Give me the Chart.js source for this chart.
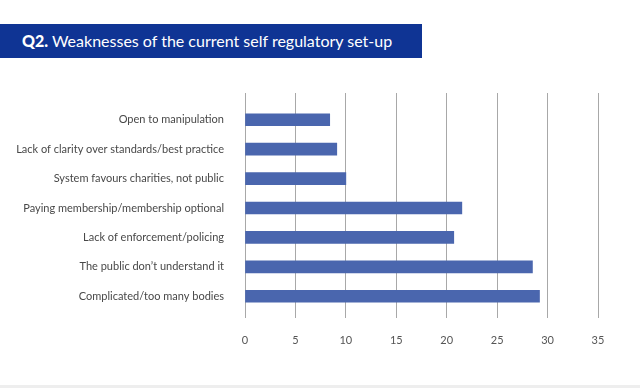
<!DOCTYPE html>
<html>
<head>
<meta charset="utf-8">
<script src="https://cdn.jsdelivr.net/npm/chart.js@4"></script>
<style>
  html, body { margin: 0; padding: 0; background: #ffffff; }
  #wrap { position: relative; width: 640px; height: 388px; overflow: hidden; }
  #chart { position: absolute; left: 0; top: 0; }
  #banner { position: absolute; left: 0; top: 24px; width: 422px; height: 34px; background: #0f3494;
            color: #ffffff; font-family: Lato, "Open Sans", sans-serif; font-size: 16px; line-height: 34px;
            padding-left: 22px; box-sizing: border-box; white-space: nowrap; }
  #banner b { font-weight: 900; }
  #footer { position: absolute; left: 0; top: 385px; width: 640px; height: 3px; background: #eeeeee; }
</style>
</head>
<body>
<div id="wrap">
  <canvas id="chart" width="640" height="388"></canvas>
  <div id="banner"><b>Q2.</b> Weaknesses of the current self regulatory set-up</div>
  <div id="footer"></div>
</div>
<script>
const categories = [
  "Open to manipulation",
  "Lack of clarity over standards/best practice",
  "System favours charities, not public",
  "Paying membership/membership optional",
  "Lack of enforcement/policing",
  "The public don\u2019t understand it",
  "Complicated/too many bodies"
];
const values = [8.4, 9.1, 10.0, 21.5, 20.7, 28.5, 29.2];
const xMin = 0, xMax = 35, xStep = 5;

const gridColor = "#a8a8a8";
const labelFont = { family: "Lato, 'Open Sans', sans-serif", size: 11 };

new Chart(document.getElementById("chart"), {
  type: "bar",
  data: {
    labels: categories,
    datasets: [{
      data: values,
      backgroundColor: "#4a66ae",
      borderWidth: 0,
      barThickness: 12,
      xAxisID: "x",
      yAxisID: "y"
    }]
  },
  options: {
    indexAxis: "y",
    responsive: false,
    animation: false,
    layout: { padding: { left: 0, right: 42, top: 93, bottom: 0 } },
    plugins: { legend: { display: false }, tooltip: { enabled: false }, title: { display: false } },
    scales: {
      x: {
        position: "bottom",
        min: xMin, max: xMax,
        ticks: { stepSize: xStep, color: "#555555", font: labelFont, padding: 16 },
        grid: { color: gridColor, lineWidth: 1, drawTicks: true, tickLength: 7, tickColor: gridColor },
        border: { display: false },
        afterFit: (s) => { s.height = 77; }
      },
      x2: {
        position: "top",
        type: "linear",
        min: xMin, max: xMax,
        ticks: { stepSize: xStep, display: false },
        grid: { color: gridColor, lineWidth: 1, drawOnChartArea: false, drawTicks: true, tickLength: 12, tickColor: gridColor },
        border: { display: false },
        afterFit: (s) => { s.height = 12; }
      },
      y: {
        ticks: { color: "#484848", font: labelFont, padding: 21 },
        grid: { display: false, drawTicks: false },
        border: { display: false },
        afterFit: (s) => { s.width = 245; }
      }
    }
  }
});
</script>
</body>
</html>
